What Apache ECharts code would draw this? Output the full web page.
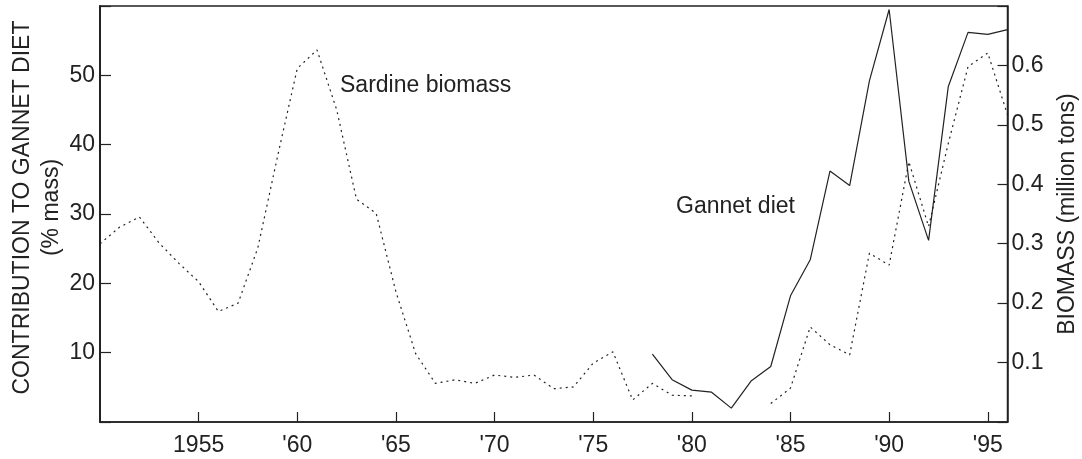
<!DOCTYPE html>
<html>
<head>
<meta charset="utf-8">
<script src="https://cdn.jsdelivr.net/npm/echarts@6/dist/echarts.min.js"></script>
<style>
  html, body { margin: 0; padding: 0; background: #fff; }
  #chart { width: 1082px; height: 459px; }
</style>
</head>
<body>
<div id="chart"></div>
<script>
// years 1950..1996
var years = [];
for (var y = 1950; y <= 1996; y++) years.push(y);

// sardine biomass, million tons (right axis); null = no survey
var sardineBiomass = [
  0.300, 0.328, 0.345, 0.301, 0.267, 0.236, 0.186, 0.200, 0.293, 0.447,
  0.595, 0.626, 0.525, 0.375, 0.351, 0.219, 0.115, 0.065, 0.071, 0.065,
  0.079, 0.075, 0.079, 0.056, 0.059, 0.099, 0.118, 0.037, 0.065, 0.045,
  0.044, null, null, null, 0.031, 0.057, 0.160, 0.130, 0.113, 0.284,
  0.264, 0.438, 0.329, 0.469, 0.598, 0.621, 0.517
];

// sardine contribution to gannet diet, % mass (left axis)
var gannetYears = [1978, 1979, 1980, 1981, 1982, 1983, 1984, 1985, 1986, 1987,
                   1988, 1989, 1990, 1991, 1992, 1993, 1994, 1995, 1996];
var gannetDiet = [9.8, 6.1, 4.6, 4.3, 2.0, 5.9, 8.0, 18.2, 23.4, 36.2,
                  34.1, 49.2, 59.5, 34.7, 26.2, 48.4, 56.2, 55.9, 56.6];

// x tick labels
var xTickYears = [1955, 1960, 1965, 1970, 1975, 1980, 1985, 1990, 1995];
var xTickLabels = ['1955', "'60", "'65", "'70", "'75", "'80", "'85", "'90", "'95"];

var leftTicks = [10, 20, 30, 40, 50];
var rightTicks = [0.1, 0.2, 0.3, 0.4, 0.5, 0.6];

var ink = '#222';
var font = 'Liberation Sans, Arial, sans-serif';

var chart = echarts.init(document.getElementById('chart'), null, {renderer: 'canvas'});

var option = {
  animation: false,
  backgroundColor: '#fff',
  grid: {
    left: 100, top: 6, right: 74.5, bottom: 37,
    outerBoundsMode: 'none', containLabel: false,
    show: true, borderColor: ink, borderWidth: 1.5, backgroundColor: 'transparent'
  },
  textStyle: {fontFamily: font, color: ink},
  xAxis: {
    type: 'value',
    min: 1950, max: 1996, interval: 5,
    splitLine: {show: false},
    axisLine: {show: true, lineStyle: {color: ink, width: 1.5}},
    axisTick: {show: true, inside: true, length: 10, lineStyle: {color: ink, width: 1.2}},
    axisLabel: {
      fontFamily: font, fontSize: 23, color: ink, margin: 12,
      showMinLabel: false, showMaxLabel: false,
      formatter: function (v) {
        var i = xTickYears.indexOf(Math.round(v));
        return i >= 0 ? xTickLabels[i] : '';
      }
    }
  },
  yAxis: [
    {
      type: 'value', position: 'left',
      min: 0, max: 60, interval: 10,
      name: 'CONTRIBUTION TO GANNET DIET\n(% mass)',
      nameLocation: 'middle', nameRotate: 90, nameGap: 34, nameMoveOverlap: false,
      nameTextStyle: {fontFamily: font, fontSize: 23, color: ink, lineHeight: 29, padding: [0, 0, 0, 13]},
      splitLine: {show: false},
      axisLine: {show: true, lineStyle: {color: ink, width: 2}},
      axisTick: {show: true, inside: true, length: 11, lineStyle: {color: ink, width: 1.2}},
      axisLabel: {
        fontFamily: font, fontSize: 23, color: ink, margin: 5,
        formatter: function (v) { return leftTicks.indexOf(v) >= 0 ? String(v) : ''; }
      }
    },
    {
      type: 'value', position: 'right',
      min: 0, max: 0.7, interval: 0.1,
      name: 'BIOMASS (million tons)',
      nameLocation: 'middle', nameRotate: 90, nameGap: 49, nameMoveOverlap: false,
      nameTextStyle: {fontFamily: font, fontSize: 23, color: ink},
      splitLine: {show: false},
      axisLine: {show: true, lineStyle: {color: ink, width: 1.5}},
      axisTick: {show: true, inside: true, length: 10, lineStyle: {color: ink, width: 1.2}},
      axisLabel: {
        fontFamily: font, fontSize: 23, color: ink, margin: 4,
        formatter: function (v) {
          var r = Math.round(v * 10) / 10;
          return rightTicks.indexOf(r) >= 0 ? r.toFixed(1) : '';
        }
      }
    }
  ],
  series: [
    {
      name: 'Sardine biomass',
      type: 'line',
      yAxisIndex: 1,
      showSymbol: false,
      connectNulls: false,
      lineStyle: {color: ink, width: 1.2, type: [2, 4]},
      data: years.map(function (yr, i) { return [yr, sardineBiomass[i]]; })
    },
    {
      name: 'Gannet diet',
      type: 'line',
      yAxisIndex: 0,
      showSymbol: false,
      lineStyle: {color: ink, width: 1.2},
      data: gannetYears.map(function (yr, i) { return [yr, gannetDiet[i]]; })
    }
  ],
  graphic: [
    {type: 'text', left: 340, top: 74,
     style: {text: 'Sardine biomass', font: '23px ' + font, fill: ink}},
    {type: 'text', left: 676, top: 195,
     style: {text: 'Gannet diet', font: '23px ' + font, fill: ink}}
  ]
};

chart.setOption(option);
</script>
</body>
</html>
